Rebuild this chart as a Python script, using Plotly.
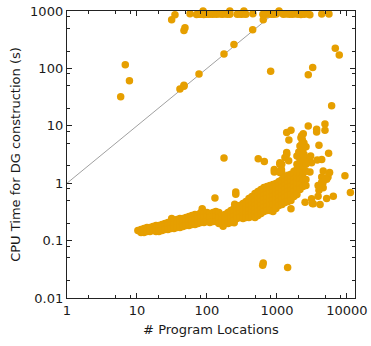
import plotly.graph_objects as go

# ---- data ----
# program locations vs CPU time (s)
timeouts = [(57.2, 900), (71, 870), (74, 880), (78, 890), (82, 875), (86, 885), (88, 1000),
            (90, 870), (95, 880), (100, 890), (106, 875), (112, 885), (120, 880), (128, 890),
            (138, 880), (153, 885), (165, 880), (178, 890), (195, 880), (212, 1000), (212, 880),
            (270, 880), (290, 890), (310, 880), (337, 1000), (335, 885), (360, 880), (453, 900),
            (630, 880), (700, 880), (760, 885), (830, 880), (900, 880), (980, 890), (1070, 1000),
            (1230, 880), (1350, 885), (1500, 880), (1650, 880), (1800, 885), (2000, 880),
            (2200, 870), (2450, 880), (2750, 890), (2950, 860), (4360, 890), (5530, 890)]

near_top = [(31.3, 702), (34.9, 859), (46.9, 456), (48.5, 510)]

on_diagonal = [(41.1, 43.7), (46.9, 48.7), (46.9, 51), (76.9, 79.8), (175, 179),
               (243, 260), (450, 469), (637, 702)]

outliers = [(5.85, 32), (6.8, 116), (7.8, 61), (813, 89), (2800, 77.6), (3240, 104),
            (6040, 22.3), (6810, 224), (7760, 171)]

scattered = [(1376, 7.64), (1585, 8.4), (1480, 5.67), (2375, 7.3), (2250, 6.7), (2800, 9.96),
             (3690, 8.7), (3690, 7.8), (4850, 10.7), (4850, 8.4), (3980, 4.58), (5470, 3.32),
             (9360, 1.35), (11200, 0.69), (6380, 0.594), (5130, 0.542), (3870, 0.594),
             (4130, 0.426), (3200, 0.443), (2520, 0.467), (1585, 0.358), (5360, 1.28),
             (5130, 1.17), (4360, 1.28), (4540, 1.02), (3870, 0.915), (2960, 1.56),
             (2900, 2.54), (4360, 2.6), (3760, 2.54), (1376, 3.41), (1300, 2.79), (1100, 2.13),
             (915, 1.74), (915, 1.56), (1160, 1.74), (540, 2.68), (660, 2.4), (175, 2.75),
             (130, 0.55), (258, 0.70), (258, 0.64), (249, 0.43), (170, 0.204), (170, 0.178),
             (245, 0.204), (637, 0.0408), (625, 0.0371), (1420, 0.034), (31.3, 0.242),
             (85.5, 0.358), (1380, 3.2), (1470, 2.45), (1930, 2.97), (1170, 2.13), (930, 1.63),
             (1170, 1.53), (2130, 4.45), (2250, 3.9), (3120, 2.28), (3030, 2.97), (4580, 1.63),
             (5650, 1.53), (4360, 1.04), (4130, 0.915), (3300, 0.437), (3120, 0.535),
             (3980, 0.75), (4570, 0.83), (1100, 2.28), (1100, 1.53), (2430, 3.2), (2430, 5.0),
             (2300, 5.8), (2600, 4.3), (2200, 6.2), (2280, 4.9), (2050, 3.5), (2500, 2.7)]

# dense main band: (program locations, [cpu times])
band = [
    (10.3, [0.150]), (11.4, [0.156, 0.138]), (12.6, [0.162, 0.138]), (13.9, [0.169, 0.144]),
    (15.3, [0.169, 0.144]), (16.9, [0.176, 0.150]), (18.7, [0.183, 0.156, 0.144]),
    (20.6, [0.183, 0.162, 0.144]), (22.8, [0.190, 0.169, 0.150]), (25.1, [0.198, 0.176, 0.156]),
    (27.7, [0.206, 0.183, 0.156]), (30.6, [0.215, 0.183, 0.162]), (33.8, [0.224, 0.190, 0.162]),
    (37.3, [0.233, 0.198, 0.169]), (41.1, [0.242, 0.206, 0.169]), (45.4, [0.242, 0.206, 0.176]),
    (50.1, [0.252, 0.215, 0.183]), (55.3, [0.263, 0.224, 0.183]), (61.0, [0.274, 0.233, 0.190]),
    (67.4, [0.285, 0.233, 0.190]), (74.3, [0.285, 0.242, 0.198]), (82.0, [0.309, 0.252, 0.206]),
    (90.6, [0.296, 0.252, 0.206]), (100, [0.309, 0.263, 0.215]), (110, [0.296, 0.252, 0.206]),
    (122, [0.309, 0.263, 0.215]), (134, [0.321, 0.263, 0.215]), (148, [0.309, 0.252, 0.198]),
    (164, [0.274, 0.233, 0.198]), (181, [0.285, 0.242, 0.206]),
    (200, [0.309, 0.263, 0.224, 0.198]), (220, [0.335, 0.285, 0.242, 0.206]),
    (243, [0.362, 0.309, 0.263, 0.224]), (268, [0.393, 0.335, 0.285, 0.242]),
    (296, [0.409, 0.348, 0.296, 0.252]), (327, [0.443, 0.377, 0.321, 0.274, 0.242]),
    (361, [0.481, 0.409, 0.348, 0.296, 0.252]),
    (398, [0.542, 0.462, 0.393, 0.335, 0.285, 0.252]),
    (439, [0.588, 0.500, 0.426, 0.362, 0.309, 0.263]),
    (485, [0.663, 0.565, 0.481, 0.409, 0.348, 0.296, 0.252]),
    (535, [0.719, 0.612, 0.521, 0.443, 0.377, 0.321, 0.274]),
    (591, [0.779, 0.663, 0.565, 0.481, 0.409, 0.348, 0.296]),
    (652, [0.845, 0.719, 0.612, 0.521, 0.443, 0.377, 0.321]),
    (720, [0.879, 0.748, 0.637, 0.542, 0.462, 0.393, 0.335]),
    (794, [0.915, 0.779, 0.663, 0.565, 0.481, 0.409, 0.335]),
    (877, [0.953, 0.811, 0.690, 0.588, 0.500, 0.426, 0.321]),
    (967, [0.992, 0.845, 0.719, 0.612, 0.521, 0.443, 0.362]),
    (1068, [1.075, 0.915, 0.779, 0.663, 0.565, 0.481, 0.409]),
    (1179, [1.165, 0.992, 0.845, 0.719, 0.612, 0.521, 0.426]),
    (1301, [1.263, 1.075, 0.915, 0.779, 0.663, 0.565, 0.462]),
    (1436, [1.369, 1.165, 0.992, 0.845, 0.719, 0.612, 0.481]),
    (1585, [1.425, 1.213, 1.033, 0.879, 0.748, 0.637, 0.500]),
    (1749, [1.608, 1.369, 1.165, 0.992, 0.845, 0.719, 0.588]),
    (1930, [2.132, 1.743, 1.425, 1.165, 0.953, 0.779, 0.637]),
    (2131, [2.607, 2.132, 1.743, 1.425, 1.165, 0.953, 0.779]),
    (2350, [3.898, 3.062, 2.405, 1.889, 1.483, 1.165, 0.879]),
    (2596, [2.132, 1.608, 1.165, 0.915]),
]

x_tick_vals = [1, 10, 100, 1000, 10000]
x_tick_text = ["1", "10", "100", "1000", "10000"]
y_tick_vals = [0.01, 0.1, 1, 10, 100, 1000]
y_tick_text = ["0.01", "0.1", "1", "10", "100", "1000"]
diag_x = [1, 1000]
diag_y = [1, 1000]

# ---- build ----
xs, ys = [], []
for group in (timeouts, near_top, on_diagonal, outliers, scattered):
    for a, b in group:
        xs.append(a)
        ys.append(b)
for a, bl in band:
    for b in bl:
        xs.append(a)
        ys.append(b)

minor_x = [m * 10 ** e for e in range(0, 5) for m in (2, 5, 8)]
minor_y = [m * 10 ** e for e in range(-2, 3) for m in (2, 5, 8)]

fig = go.Figure()
fig.add_trace(go.Scatter(x=diag_x, y=diag_y, mode="lines",
                         line=dict(color="#a0a0a0", width=1), hoverinfo="skip"))
fig.add_trace(go.Scatter(x=xs, y=ys, mode="markers", cliponaxis=False,
                         marker=dict(color="#E69F00", size=7.5, line=dict(width=0))))

font = dict(family="DejaVu Sans", size=13, color="#1a1a1a")
axis_common = dict(type="log", showgrid=False, zeroline=False, showline=True,
                   linecolor="#222222", linewidth=1.2, mirror="ticks", ticks="inside",
                   ticklen=5, tickwidth=1, tickcolor="#222222", tickfont=font,
                   automargin=False)

fig.update_layout(
    width=371, height=346, margin=dict(l=67, r=16, t=11, b=48, autoexpand=False),
    paper_bgcolor="white", plot_bgcolor="white", showlegend=False,
    font=font,
    xaxis=dict(**axis_common, range=[0, 4.115], tickvals=x_tick_vals, ticktext=x_tick_text,
               minor=dict(tickmode="array", tickvals=minor_x, ticks="inside", ticklen=3,
                          tickcolor="#222222", tickwidth=1),
               title=dict(text="# Program Locations", font=font, standoff=8)),
    yaxis=dict(**axis_common, range=[-2, 3], tickvals=y_tick_vals, ticktext=y_tick_text,
               minor=dict(tickmode="array", tickvals=minor_y, ticks="inside", ticklen=3,
                          tickcolor="#222222", tickwidth=1),
               title=dict(text="CPU Time for DG construction (s)", font=font, standoff=6)),
)

fig.write_html("out.html", config={"displayModeBar": False, "staticPlot": True},
               post_script="document.body.style.margin='0';document.body.style.overflow='hidden';")
